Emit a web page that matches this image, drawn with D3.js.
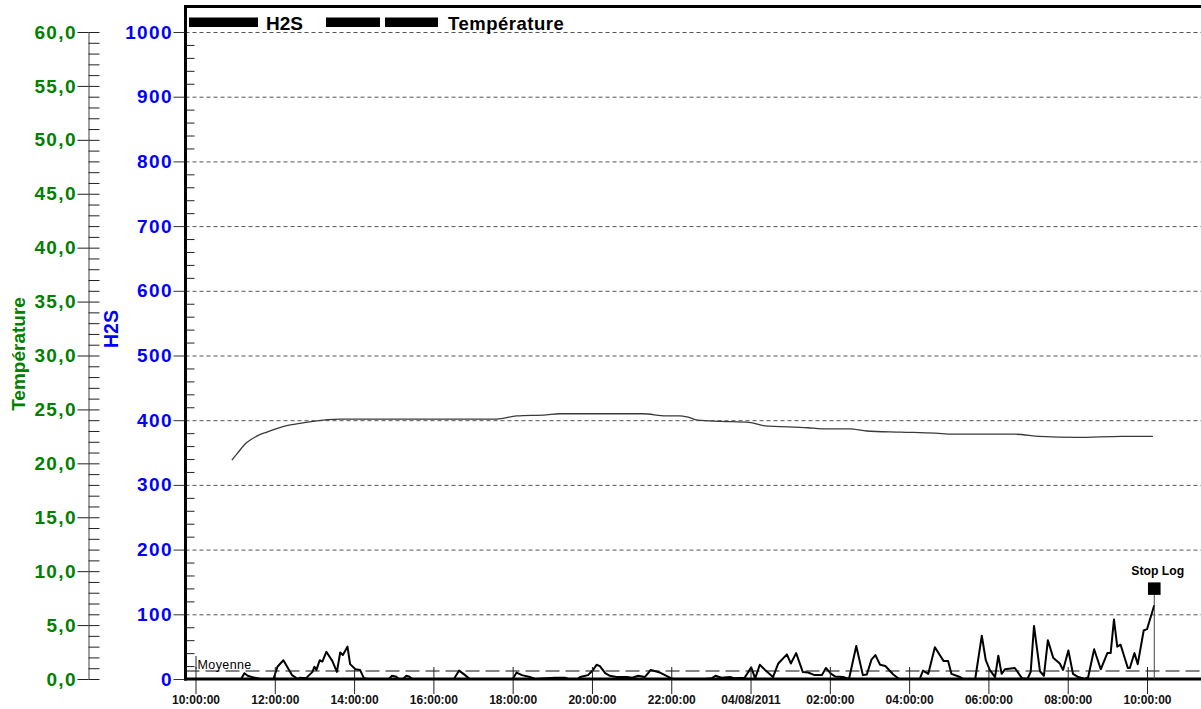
<!DOCTYPE html>
<html>
<head>
<meta charset="utf-8">
<script src="https://cdn.jsdelivr.net/npm/d3@7"></script>
<style>
  html, body { margin: 0; padding: 0; background: #fff; }
  svg { display: block; font-family: "Liberation Sans", Arial, sans-serif; }
</style>
</head>
<body>
<svg id="chart" width="1201" height="709"></svg>
<script>
// ---- Data -------------------------------------------------------------
const timeStart = "2011-08-03 10:00";
const timeEnd = "2011-08-04 10:00";
const stopLogTime = "2011-08-04 10:11";
const moyenne = 12.4;

const h2sTicks = [0, 100, 200, 300, 400, 500, 600, 700, 800, 900, 1000];
const tempTicks = [0, 5, 10, 15, 20, 25, 30, 35, 40, 45, 50, 55, 60];

const h2sTimes = [
  "2011-08-03 10:07", "2011-08-03 11:09", "2011-08-03 11:14", "2011-08-03 11:19", "2011-08-03 11:25",
  "2011-08-03 11:39", "2011-08-03 11:58", "2011-08-03 12:04", "2011-08-03 12:13", "2011-08-03 12:26",
  "2011-08-03 12:35", "2011-08-03 12:38", "2011-08-03 12:47", "2011-08-03 12:57", "2011-08-03 13:00",
  "2011-08-03 13:03", "2011-08-03 13:08", "2011-08-03 13:12", "2011-08-03 13:18", "2011-08-03 13:27",
  "2011-08-03 13:34", "2011-08-03 13:39", "2011-08-03 13:43", "2011-08-03 13:50", "2011-08-03 13:54",
  "2011-08-03 14:02", "2011-08-03 14:09", "2011-08-03 14:15", "2011-08-03 14:21", "2011-08-03 14:53",
  "2011-08-03 14:57", "2011-08-03 15:03", "2011-08-03 15:08", "2011-08-03 15:14", "2011-08-03 15:19",
  "2011-08-03 15:23", "2011-08-03 15:28", "2011-08-03 16:31", "2011-08-03 16:39", "2011-08-03 16:48",
  "2011-08-03 16:55", "2011-08-03 18:00", "2011-08-03 18:06", "2011-08-03 18:14", "2011-08-03 18:26",
  "2011-08-03 18:34", "2011-08-03 19:04", "2011-08-03 19:19", "2011-08-03 19:24", "2011-08-03 19:39",
  "2011-08-03 19:42", "2011-08-03 19:54", "2011-08-03 20:01", "2011-08-03 20:07", "2011-08-03 20:12",
  "2011-08-03 20:20", "2011-08-03 20:27", "2011-08-03 20:37", "2011-08-03 20:53", "2011-08-03 21:01",
  "2011-08-03 21:10", "2011-08-03 21:20", "2011-08-03 21:29", "2011-08-03 21:43", "2011-08-03 21:58",
  "2011-08-03 22:03", "2011-08-03 22:51", "2011-08-03 23:01", "2011-08-03 23:07", "2011-08-03 23:16",
  "2011-08-03 23:29", "2011-08-03 23:36", "2011-08-03 23:51", "2011-08-04 00:01", "2011-08-04 00:07",
  "2011-08-04 00:14", "2011-08-04 00:22", "2011-08-04 00:34", "2011-08-04 00:42", "2011-08-04 00:55",
  "2011-08-04 01:01", "2011-08-04 01:09", "2011-08-04 01:19", "2011-08-04 01:27", "2011-08-04 01:37",
  "2011-08-04 01:48", "2011-08-04 01:54", "2011-08-04 02:02", "2011-08-04 02:08", "2011-08-04 02:20",
  "2011-08-04 02:29", "2011-08-04 02:40", "2011-08-04 02:50", "2011-08-04 02:56", "2011-08-04 03:03",
  "2011-08-04 03:09", "2011-08-04 03:16", "2011-08-04 03:24", "2011-08-04 03:36", "2011-08-04 03:45",
  "2011-08-04 04:16", "2011-08-04 04:21", "2011-08-04 04:29", "2011-08-04 04:39", "2011-08-04 04:52",
  "2011-08-04 04:59", "2011-08-04 05:04", "2011-08-04 05:17", "2011-08-04 05:22", "2011-08-04 05:40",
  "2011-08-04 05:50", "2011-08-04 05:56", "2011-08-04 06:02", "2011-08-04 06:10", "2011-08-04 06:15",
  "2011-08-04 06:20", "2011-08-04 06:25", "2011-08-04 06:40", "2011-08-04 06:51", "2011-08-04 06:59",
  "2011-08-04 07:04", "2011-08-04 07:09", "2011-08-04 07:18", "2011-08-04 07:24", "2011-08-04 07:30",
  "2011-08-04 07:38", "2011-08-04 07:48", "2011-08-04 07:53", "2011-08-04 08:01", "2011-08-04 08:08",
  "2011-08-04 08:16", "2011-08-04 08:26", "2011-08-04 08:31", "2011-08-04 08:40", "2011-08-04 08:50",
  "2011-08-04 09:00", "2011-08-04 09:05", "2011-08-04 09:10", "2011-08-04 09:15", "2011-08-04 09:20",
  "2011-08-04 09:31", "2011-08-04 09:34", "2011-08-04 09:41", "2011-08-04 09:46", "2011-08-04 09:55",
  "2011-08-04 10:00", "2011-08-04 10:11"
];
const h2sValues = [
  0, 0, 9, 5, 3,
  0, 0, 19, 29, 6,
  0, 2, 1, 11, 19,
  14, 29, 27, 42, 28,
  11, 41, 37, 50, 23,
  15, 14, 1, 0, 0,
  5, 4, 0, 0, 5,
  4, 0, 0, 13, 6,
  0, 0, 10, 6, 3,
  0, 2, 2, 0, 0,
  3, 6, 13, 22, 20,
  9, 5, 3, 3, 2,
  5, 3, 14, 10, 2,
  0, 0, 1, 5, 2,
  3, 1, 2, 18, 1,
  22, 14, 3, 24, 38,
  24, 40, 11, 10, 6,
  6, 17, 8, 4, 3,
  0, 51, 6, 7, 30,
  37, 22, 20, 7, 0,
  0, 13, 8, 49, 28,
  28, 8, 3, 0, 0,
  67, 29, 14, 3, 36,
  8, 15, 17, 1, 0,
  11, 82, 12, 5, 60,
  33, 24, 14, 44, 8,
  3, 0, 3, 46, 15,
  40, 40, 92, 50, 53,
  17, 17, 40, 23, 75,
  77, 114
];

const tempTimes = [
  "2011-08-03 10:55", "2011-08-03 11:03", "2011-08-03 11:17", "2011-08-03 11:32", "2011-08-03 11:48",
  "2011-08-03 12:18", "2011-08-03 12:38", "2011-08-03 12:58", "2011-08-03 13:38", "2011-08-03 16:20",
  "2011-08-03 17:36", "2011-08-03 18:06", "2011-08-03 18:51", "2011-08-03 19:11", "2011-08-03 21:17",
  "2011-08-03 21:52", "2011-08-03 22:13", "2011-08-03 22:24", "2011-08-03 22:40", "2011-08-03 23:16",
  "2011-08-03 23:58", "2011-08-04 00:19", "2011-08-04 01:27", "2011-08-04 01:48", "2011-08-04 02:30",
  "2011-08-04 02:56", "2011-08-04 03:48", "2011-08-04 04:40", "2011-08-04 05:06", "2011-08-04 06:40",
  "2011-08-04 07:17", "2011-08-04 08:14", "2011-08-04 09:22", "2011-08-04 10:09"
];
const tempValues = [
  20.3, 20.9, 21.9, 22.5, 22.9,
  23.5, 23.7, 23.9, 24.1, 24.1,
  24.1, 24.4, 24.5, 24.6, 24.6,
  24.4, 24.4, 24.3, 24.0, 23.9,
  23.8, 23.5, 23.3, 23.2, 23.2,
  23.0, 22.9, 22.8, 22.7, 22.7,
  22.5, 22.4, 22.5, 22.5
];

// ---- Setup ------------------------------------------------------------
const parse = d3.timeParse("%Y-%m-%d %H:%M");
const h2s = h2sTimes.map((t, i) => ({ t: parse(t), v: h2sValues[i] }));
const temp = tempTimes.map((t, i) => ({ t: parse(t), v: tempValues[i] }));

const frameLeft = 185.5, frameTop = 6.5, frameRight = 1203, baseY = 679, topY = 32;

const x = d3.scaleTime().domain([parse(timeStart), parse(timeEnd)]).range([195.5, 1147]);
const yH = d3.scaleLinear().domain([0, 1000]).range([baseY, topY]);
const yT = d3.scaleLinear().domain([0, 60]).range([baseY, topY]);

const frLocale = d3.formatLocale({ decimal: ",", thousands: ".", grouping: [3], currency: ["", " €"] });
const fmtTemp = frLocale.format(".1f");
const fmtTime = d3.timeFormat("%H:%M:%S");
const fmtDate = d3.timeFormat("%d/%m/%Y");

const svg = d3.select("#chart");
const GREEN = "#008000", BLUE = "#0000ff";

// ---- Horizontal dashed grid -------------------------------------------
svg.append("g")
  .selectAll("line")
  .data(h2sTicks.filter(v => v > 0))
  .join("line")
  .attr("x1", frameLeft).attr("x2", frameRight)
  .attr("y1", d => yH(d) + 0.5).attr("y2", d => yH(d) + 0.5)
  .attr("stroke", "#555").attr("stroke-width", 1)
  .attr("stroke-dasharray", "4,3");

// ---- Average line -----------------------------------------------------
svg.append("line")
  .attr("x1", frameLeft).attr("x2", frameRight)
  .attr("y1", yH(moyenne)).attr("y2", yH(moyenne))
  .attr("stroke", "#858585").attr("stroke-width", 2)
  .attr("stroke-dasharray", "14,6");

svg.append("line")
  .attr("x1", x(parse(timeStart)) + 0.5).attr("x2", x(parse(timeStart)) + 0.5)
  .attr("y1", baseY - 23).attr("y2", baseY - 10)
  .attr("stroke", "#222").attr("stroke-width", 1);

svg.append("text")
  .attr("x", x(parse(timeStart)) + 2).attr("y", yH(moyenne) - 2)
  .attr("font-size", 12.5).attr("letter-spacing", 0.4).attr("fill", "#000")
  .text("Moyenne");

// ---- Temperature curve ------------------------------------------------
svg.append("path")
  .datum(temp)
  .attr("fill", "none")
  .attr("stroke", "#3a3a3a").attr("stroke-width", 1.3)
  .attr("d", d3.line().x(d => x(d.t)).y(d => yT(d.v)).curve(d3.curveMonotoneX));

// ---- H2S series -------------------------------------------------------
svg.append("path")
  .datum(h2s)
  .attr("fill", "none")
  .attr("stroke", "#000").attr("stroke-width", 2)
  .attr("stroke-linejoin", "round")
  .attr("d", d3.line().x(d => x(d.t)).y(d => yH(d.v)));

// ---- X axis -----------------------------------------------------------
const xTicks = d3.timeHour.every(2).range(parse(timeStart), d3.timeMinute.offset(parse(timeEnd), 1));
const xAxis = svg.append("g")
  .attr("transform", `translate(0,${baseY - 12})`)
  .call(d3.axisBottom(x)
    .tickValues(xTicks)
    .tickSize(27)
    .tickPadding(1)
    .tickFormat(d => d.getHours() === 0 ? fmtDate(d) : fmtTime(d)));
xAxis.select(".domain").remove();
xAxis.selectAll(".tick line").attr("stroke", "#222").attr("stroke-width", 1);
xAxis.selectAll(".tick text")
  .attr("font-family", "'Liberation Sans', Arial, sans-serif")
  .attr("font-size", 12).attr("font-weight", "bold").attr("fill", "#111");

// ---- Frame ------------------------------------------------------------
svg.append("line")
  .attr("x1", frameLeft).attr("x2", frameLeft)
  .attr("y1", frameTop - 1.5).attr("y2", baseY + 1.5)
  .attr("stroke", "#000").attr("stroke-width", 3);
svg.append("line")
  .attr("x1", frameLeft - 1.5).attr("x2", frameRight)
  .attr("y1", frameTop).attr("y2", frameTop)
  .attr("stroke", "#000").attr("stroke-width", 3);
svg.append("line")
  .attr("x1", frameLeft - 1.5).attr("x2", frameRight)
  .attr("y1", baseY).attr("y2", baseY)
  .attr("stroke", "#000").attr("stroke-width", 3);

// ---- H2S axis (left of frame) -----------------------------------------
const labelFont = "'Liberation Sans', Arial, sans-serif";
const hAxis = svg.append("g")
  .attr("transform", `translate(${frameLeft - 1},0)`)
  .call(d3.axisLeft(yH).tickValues(h2sTicks).tickSize(11).tickSizeOuter(0).tickPadding(0.5)
    .tickFormat(d3.format("d")));
hAxis.select(".domain").remove();
hAxis.selectAll(".tick line").attr("stroke", "#333");
hAxis.selectAll(".tick text")
  .attr("font-family", labelFont).attr("font-size", 19).attr("font-weight", "bold")
  .attr("letter-spacing", 1.4).attr("fill", BLUE);

const hMinor = svg.append("g")
  .attr("transform", `translate(${frameLeft + 1},0)`)
  .call(d3.axisRight(yH).tickValues(d3.range(0, 1001, 20).filter(v => v % 100 !== 0))
    .tickSize(8).tickSizeOuter(0).tickFormat(""));
hMinor.select(".domain").remove();
hMinor.selectAll(".tick line").attr("stroke", "#222");

// ---- Temperature axis -------------------------------------------------
const tAxisX = 88.5;
const tAxis = svg.append("g")
  .attr("transform", `translate(${tAxisX},0)`)
  .call(d3.axisLeft(yT).tickValues(tempTicks).tickSize(11).tickSizeOuter(0).tickPadding(0.5)
    .tickFormat(fmtTemp));
tAxis.select(".domain").attr("stroke", "#808080").attr("stroke-width", 1.5);
tAxis.selectAll(".tick line").attr("stroke", "#222");
tAxis.selectAll(".tick text")
  .attr("font-family", labelFont).attr("font-size", 19).attr("font-weight", "bold")
  .attr("letter-spacing", 1.4).attr("fill", GREEN);

const tMinor = svg.append("g")
  .attr("transform", `translate(${tAxisX},0)`)
  .call(d3.axisRight(yT).tickValues(d3.range(0, 61, 1)).tickSize(11).tickSizeOuter(0).tickFormat(""));
tMinor.select(".domain").remove();
tMinor.selectAll(".tick line").attr("stroke", "#222");

// ---- Axis titles ------------------------------------------------------
svg.append("text")
  .attr("transform", "translate(24.5,354) rotate(-90)")
  .attr("text-anchor", "middle")
  .attr("font-size", 19).attr("font-weight", "bold").attr("fill", GREEN)
  .text("Température");
svg.append("text")
  .attr("transform", "translate(117.5,329) rotate(-90)")
  .attr("text-anchor", "middle")
  .attr("font-size", 19.5).attr("font-weight", "bold").attr("fill", BLUE)
  .text("H2S");

// ---- Legend -----------------------------------------------------------
const legend = svg.append("g");
legend.append("rect").attr("x", 189).attr("y", 17.5).attr("width", 69).attr("height", 9.5).attr("fill", "#000");
legend.append("text").attr("x", 266).attr("y", 29.5)
  .attr("font-size", 19).attr("font-weight", "bold").attr("fill", "#000").text("H2S");
legend.append("rect").attr("x", 326).attr("y", 17.5).attr("width", 54).attr("height", 9.5).attr("fill", "#000");
legend.append("rect").attr("x", 385).attr("y", 17.5).attr("width", 53).attr("height", 9.5).attr("fill", "#000");
legend.append("text").attr("x", 448).attr("y", 29.5)
  .attr("font-size", 18.5).attr("font-weight", "bold").attr("letter-spacing", 0.5).attr("fill", "#000")
  .text("Température");

// ---- Stop Log marker --------------------------------------------------
const sx = x(parse(stopLogTime));
svg.append("line")
  .attr("x1", sx).attr("x2", sx)
  .attr("y1", yH(130)).attr("y2", baseY)
  .attr("stroke", "#444").attr("stroke-width", 1);
svg.append("rect")
  .attr("x", sx - 6.3).attr("y", yH(130) - 12.5)
  .attr("width", 12.6).attr("height", 12.5)
  .attr("fill", "#000");
svg.append("text")
  .attr("x", sx + 3.5).attr("y", yH(130) - 20)
  .attr("text-anchor", "middle")
  .attr("font-size", 12.2).attr("font-weight", "bold").attr("fill", "#000")
  .text("Stop Log");
</script>
</body>
</html>
